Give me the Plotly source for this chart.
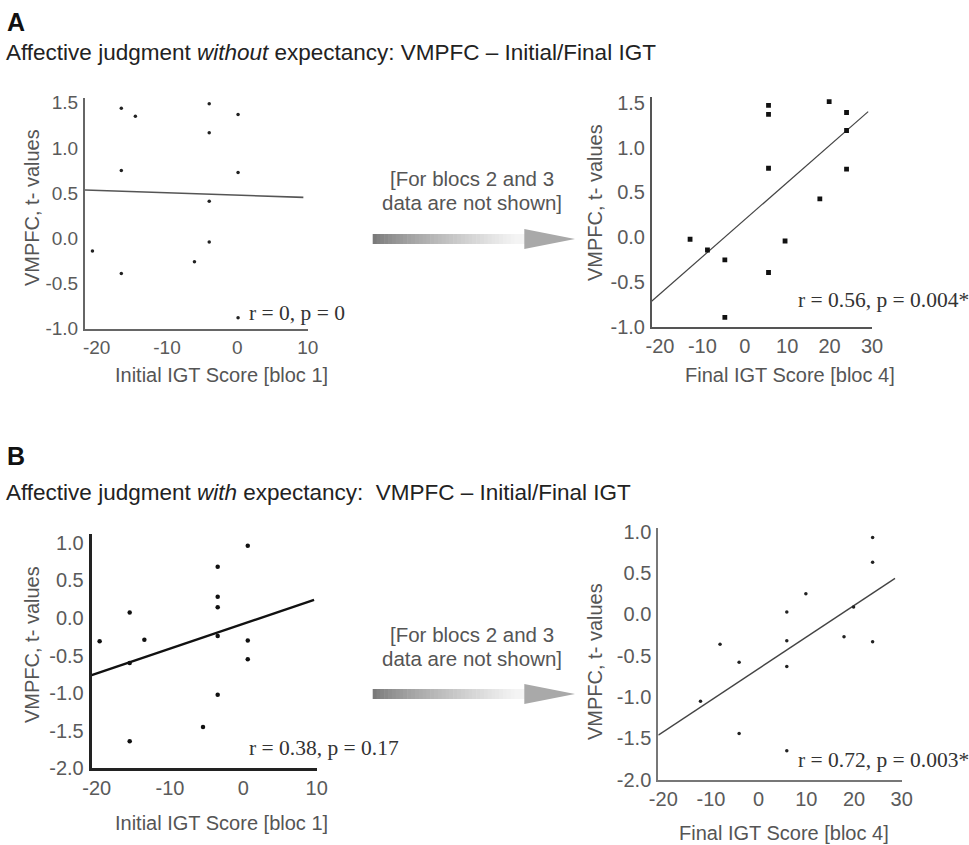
import plotly.graph_objects as go

W, H = 969, 845

# ---------------- data ----------------
# Panel A, left: Initial IGT score [bloc 1] vs VMPFC t-values (without expectancy)
a_init_x = [-20.6, -16.5, -16.5, -16.5, -14.5, -6.1, -4.0, -4.0, -4.0, -4.0, 0.1, 0.1, 0.1]
a_init_y = [-0.14, 1.44, 0.75, -0.39, 1.35, -0.26, 1.49, 1.17, 0.41, -0.04, 1.37, 0.73, -0.88]
a_init_fit_x = [-21.66, 9.38]
a_init_fit_y = [0.535, 0.454]

# Panel A, right: Final IGT score [bloc 4]
a_final_x = [-12.9, -8.8, -4.7, -4.7, 5.6, 5.6, 5.6, 5.6, 9.5, 17.7, 19.9, 24.0, 24.0, 24.0]
a_final_y = [-0.02, -0.14, -0.25, -0.89, 1.47, 1.37, 0.77, -0.39, -0.04, 0.43, 1.51, 1.39, 1.19, 0.76]
a_final_fit_x = [-21.97, 29.1]
a_final_fit_y = [-0.71, 1.40]

# Panel B, left: Initial IGT score [bloc 1] (with expectancy)
b_init_x = [-19.6, -15.5, -15.5, -15.5, -13.5, -5.5, -3.5, -3.5, -3.5, -3.5, -3.5, 0.6, 0.6, 0.6]
b_init_y = [-0.31, 0.07, -0.60, -1.64, -0.29, -1.45, 0.68, 0.28, 0.14, -0.24, -1.02, 0.96, -0.30, -0.55]
b_init_fit_x = [-20.68, 9.64]
b_init_fit_y = [-0.76, 0.24]

# Panel B, right: Final IGT score [bloc 4]
b_final_x = [-12.2, -8.1, -4.1, -4.1, 5.9, 5.9, 5.9, 5.9, 9.9, 17.9, 19.9, 23.9, 23.9, 23.9]
b_final_y = [-1.05, -0.36, -0.58, -1.44, 0.03, -0.32, -0.63, -1.65, 0.25, -0.27, 0.09, 0.93, 0.63, -0.33]
b_final_fit_x = [-21.05, 28.6]
b_final_fit_y = [-1.46, 0.435]

stats_text = ["r = 0, p = 0", "r = 0.56, p = 0.004*", "r = 0.38, p = 0.17", "r = 0.72, p = 0.003*"]
y_title = "VMPFC, t- values"
x_title_init = "Initial IGT Score [bloc 1]"
x_title_final = "Final IGT Score [bloc 4]"
ticks_x_init = [-20, -10, 0, 10]
ticks_x_final = [-20, -10, 0, 10, 20, 30]
ticks_y_a = [-1.0, -0.5, 0.0, 0.5, 1.0, 1.5]
ticks_y_b = [-2.0, -1.5, -1.0, -0.5, 0.0, 0.5, 1.0]

SANS = "Liberation Sans, Arial, sans-serif"
SERIF = "Liberation Serif, Times New Roman, serif"


def fx(x):
    return x / W


def fy(y):
    return 1 - y / H


def labels(vals, fmt):
    return [fmt % v for v in vals]


fig = go.Figure()

panels = [
    (a_init_x, a_init_y, a_init_fit_x, a_init_fit_y, "circle", 3.5, 1.6, "#555555", "#222222"),
    (a_final_x, a_final_y, a_final_fit_x, a_final_fit_y, "square", 4.8, 1.2, "#444444", "#111111"),
    (b_init_x, b_init_y, b_init_fit_x, b_init_fit_y, "circle", 4.5, 2.4, "#111111", "#111111"),
    (b_final_x, b_final_y, b_final_fit_x, b_final_fit_y, "circle", 3.5, 1.4, "#444444", "#222222"),
]

for i, (xs, ys, fxs, fys, sym, sz, lw, lc, mc) in enumerate(panels):
    ax = "" if i == 0 else str(i + 1)
    fig.add_trace(go.Scatter(x=fxs, y=fys, mode="lines", line=dict(color=lc, width=lw),
                             xaxis="x" + ax, yaxis="y" + ax, hoverinfo="skip"))
    fig.add_trace(go.Scatter(x=xs, y=ys, mode="markers",
                             marker=dict(symbol=sym, size=sz, color=mc, line=dict(width=0)),
                             xaxis="x" + ax, yaxis="y" + ax))

axes_geo = [
    ((85.0, 307.7), (98.3, 328.7), [-21.66, 10], [-1.0, 1.55], ticks_x_init, ticks_y_a, 19, "#666666", 2),
    ((651.6, 872.0), (96.6, 327.3), [-21.97, 30], [-1.0, 1.567], ticks_x_final, ticks_y_a, 20, "#555555", 1.6),
    ((91.7, 316.7), (533.6, 768.4), [-20.68, 10], [-2.0, 1.12], ticks_x_init, ticks_y_b, 20, "#222222", 3),
    ((658.3, 901.7), (528.4, 779.7), [-21.05, 30], [-2.0, 1.04], ticks_x_final, ticks_y_b, 20, "#777777", 2),
]

layout = dict(
    width=W, height=H,
    margin=dict(l=0, r=0, t=0, b=0, pad=0, autoexpand=False),
    paper_bgcolor="white", plot_bgcolor="rgba(0,0,0,0)",
    showlegend=False,
)

for i, (xd, yd, xr, yr, xt, yt, tf, lc, lw) in enumerate(axes_geo):
    ax = "" if i == 0 else str(i + 1)
    common = dict(showgrid=False, zeroline=False, showline=True, linecolor=lc, linewidth=lw,
                  ticks="", automargin=False,
                  tickfont=dict(family=SANS, size=tf, color="#5a5a5a"), fixedrange=True)
    layout["xaxis" + ax] = dict(domain=[fx(xd[0]), fx(xd[1])], range=xr, tickmode="array",
                                tickvals=xt, ticktext=labels(xt, "%d"),
                                anchor="y" + ax, ticklabelstandoff=0, **common)
    layout["yaxis" + ax] = dict(domain=[fy(yd[1]), fy(yd[0])], range=yr, tickmode="array",
                                tickvals=yt, ticktext=labels(yt, "%.1f"),
                                anchor="x" + ax, ticklabelstandoff=1, **common)

fig.update_layout(**layout)

ann = []


def text(x, y, t, size, color="#555555", family=SANS, xanchor="center", angle=0):
    ann.append(dict(x=fx(x), y=fy(y), xref="paper", yref="paper", text=t, showarrow=False,
                    xanchor=xanchor, yanchor="middle", textangle=angle,
                    font=dict(family=family, size=size, color=color)))


# headings
text(5, 22, "<b>A</b>", 25, "#111111", xanchor="left")
text(4, 53, "Affective judgment <i>without</i> expectancy: VMPFC \u2013 Initial/Final IGT", 22.5, "#222222", xanchor="left")
text(5, 456, "<b>B</b>", 25, "#111111", xanchor="left")
text(4, 493, "Affective judgment <i>with</i> expectancy: \u00a0VMPFC \u2013 Initial/Final IGT", 22.5, "#222222", xanchor="left")

# axis titles
text(32, 208, y_title, 20, angle=-90)
text(595, 203, y_title, 20, angle=-90)
text(32, 645, y_title, 20, angle=-90)
text(595, 662, y_title, 20, angle=-90)
text(221, 375, x_title_init, 20)
text(790, 375, x_title_final, 20)
text(221, 823, x_title_init, 20)
text(784, 833, x_title_final, 20)

# statistics
text(247, 313, stats_text[0], 21.5, "#333333", SERIF, xanchor="left")
text(796, 300, stats_text[1], 21.5, "#333333", SERIF, xanchor="left")
text(247, 748, stats_text[2], 21.5, "#333333", SERIF, xanchor="left")
text(796, 760, stats_text[3], 21.5, "#333333", SERIF, xanchor="left")

# arrow captions
for cy in (178, 634):
    text(472, cy, "[For blocs 2 and 3", 20.5)
    text(472, cy + 24, "data are not shown]", 20.5)

fig.update_layout(annotations=ann)

# gradient arrows (decoration)
shapes = []


def lerp(a, b, t):
    return int(round(a + (b - a) * t))


for cy in (239, 694):
    x0, x1 = 372.7, 526.0
    n = 40
    for k in range(n):
        t = k / (n - 1)
        g = lerp(0x7a, 0xf4, min(1.0, t ** 0.8 * 1.05))
        col = "rgb(%d,%d,%d)" % (g, g, g)
        xa = x0 + (x1 - x0) * k / n
        xb = x0 + (x1 - x0) * (k + 1) / n + 0.6
        shapes.append(dict(type="rect", xref="paper", yref="paper", x0=fx(xa), x1=fx(xb),
                           y0=fy(cy + 5), y1=fy(cy - 5), line=dict(width=0), fillcolor=col, layer="above"))
    path = "M %f %f L %f %f L %f %f Z" % (fx(524.3), fy(cy - 10), fx(575), fy(cy), fx(524.3), fy(cy + 10))
    shapes.append(dict(type="path", xref="paper", yref="paper", path=path,
                       fillcolor="#a9a9a9", line=dict(width=0), layer="above"))

fig.update_layout(shapes=shapes)

fig.write_html("out.html", config={"displayModeBar": False, "staticPlot": True},
               post_script="document.body.style.margin='0';document.body.style.overflow='hidden';")
